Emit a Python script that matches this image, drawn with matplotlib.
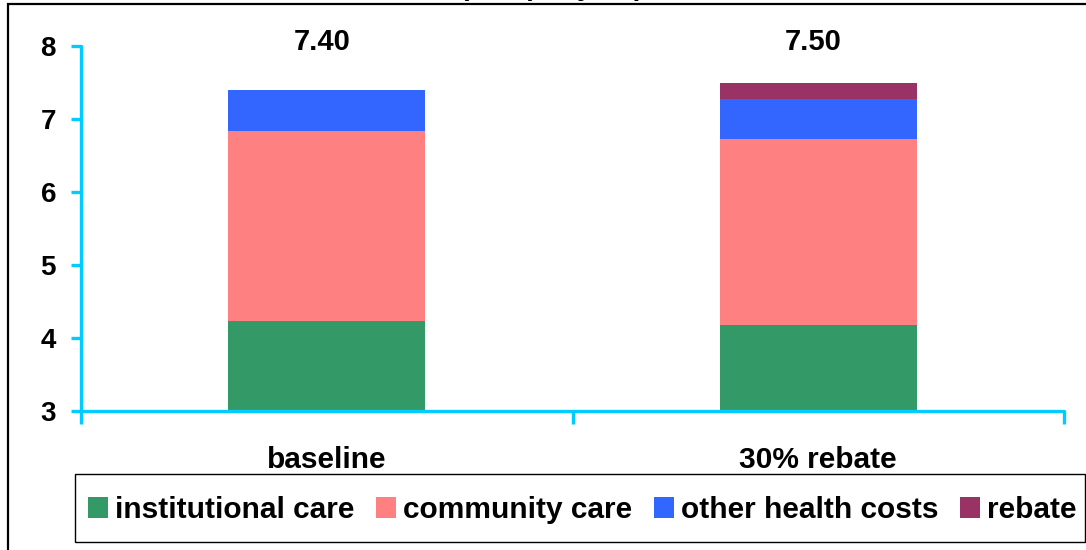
import matplotlib
matplotlib.use("Agg")
import matplotlib.pyplot as plt
from matplotlib.patches import Rectangle, Patch
import numpy as np

# Scenario data (£bn per year)
scenarios = ["baseline", "30% rebate"]
institutional_care = [4.23, 4.18]
community_care = [2.61, 2.54]
other_health_costs = [0.56, 0.55]
rebate = [0.00, 0.23]

series_names = ["institutional care", "community care", "other health costs", "rebate"]
series_values = [institutional_care, community_care, other_health_costs, rebate]
series_colors = ["#339966", "#FF8080", "#3366FF", "#993366"]

y_ticks = [3, 4, 5, 6, 7, 8]

plt.rcParams["font.family"] = ["Liberation Sans", "DejaVu Sans"]
plt.rcParams["font.weight"] = "bold"

W, H = 1086, 550
fig = plt.figure(figsize=(W / 100, H / 100), dpi=100)
fig.patch.set_facecolor("white")

# axes box in pixel terms converted to figure fractions
ax_left, ax_right = 81, 1064
ax_top, ax_bottom = 46, 411
ax = fig.add_axes([ax_left / W, 1 - ax_bottom / H,
                   (ax_right - ax_left) / W, (ax_bottom - ax_top) / H])

axis_color = "#00CCFF"
x = np.arange(len(scenarios))
bar_width = 0.40
bottom = np.zeros(len(scenarios))
for name, vals, col in zip(series_names, series_values, series_colors):
    vals = np.array(vals)
    ax.bar(x, vals, bar_width, bottom=bottom, color=col, label=name,
           linewidth=0, zorder=2)
    bottom = bottom + vals

totals = bottom
for xi, tot in zip(x, totals):
    ax.text(xi - 0.01, 8.06, f"{tot:.2f}", ha="center", va="center",
            fontsize=21, fontweight="bold", clip_on=False)

ax.set_xlim(-0.5, len(scenarios) - 0.5)
ax.set_ylim(3, 8)

for side in ["top", "right"]:
    ax.spines[side].set_visible(False)
for side in ["left", "bottom"]:
    ax.spines[side].set_color(axis_color)
    ax.spines[side].set_linewidth(2.4)
    ax.spines[side].set_capstyle("round")

ax.set_yticks(y_ticks)
ax.set_yticklabels([str(t) for t in y_ticks])
ax.tick_params(axis="y", direction="out", length=7, width=2.4,
               color=axis_color, labelsize=20, pad=11)

# major x ticks at category boundaries, labels at category centres
ax.set_xticks(np.arange(-0.5, len(scenarios), 1.0))
ax.set_xticklabels([])
ax.tick_params(axis="x", which="major", direction="out", length=9,
               width=2.4, color=axis_color)
ax.set_xticks(x, minor=True)
ax.set_xticklabels(scenarios, minor=True)
ax.tick_params(axis="x", which="minor", length=0, labelsize=21.5, pad=25)
for lab in ax.get_xticklabels(minor=True) + ax.get_yticklabels():
    lab.set_fontweight("bold")

# legend along the bottom, with its own box
handles = [Patch(facecolor=c, edgecolor="none") for c in series_colors]
leg = fig.legend(handles, series_names, loc="center left",
                 bbox_to_anchor=(88 / W, 1 - 510 / H), ncol=4,
                 frameon=False, prop={"size": 21.5, "weight": "bold"},
                 handlelength=0.66, handleheight=0.66, handletextpad=0.25,
                 columnspacing=0.72, borderpad=0, borderaxespad=0)
legend_box = Rectangle((75 / W, 1 - 542 / H), (1085 - 75) / W, 68 / H,
                       transform=fig.transFigure, fill=False,
                       edgecolor="black", linewidth=1.0, zorder=5)
fig.add_artist(legend_box)

# title line sitting above the framed chart area
fig.text(552 / W, 1 + 5 / H, "(£bn per year)", ha="center", va="baseline",
         fontsize=20, fontweight="bold")

# chart frame
frame = Rectangle((8 / W, -0.2), 1.5, 1.2 - 4 / H, transform=fig.transFigure,
                  fill=False, edgecolor="black", linewidth=1.6, zorder=10)
fig.add_artist(frame)

fig.savefig("out.png", dpi=100)
